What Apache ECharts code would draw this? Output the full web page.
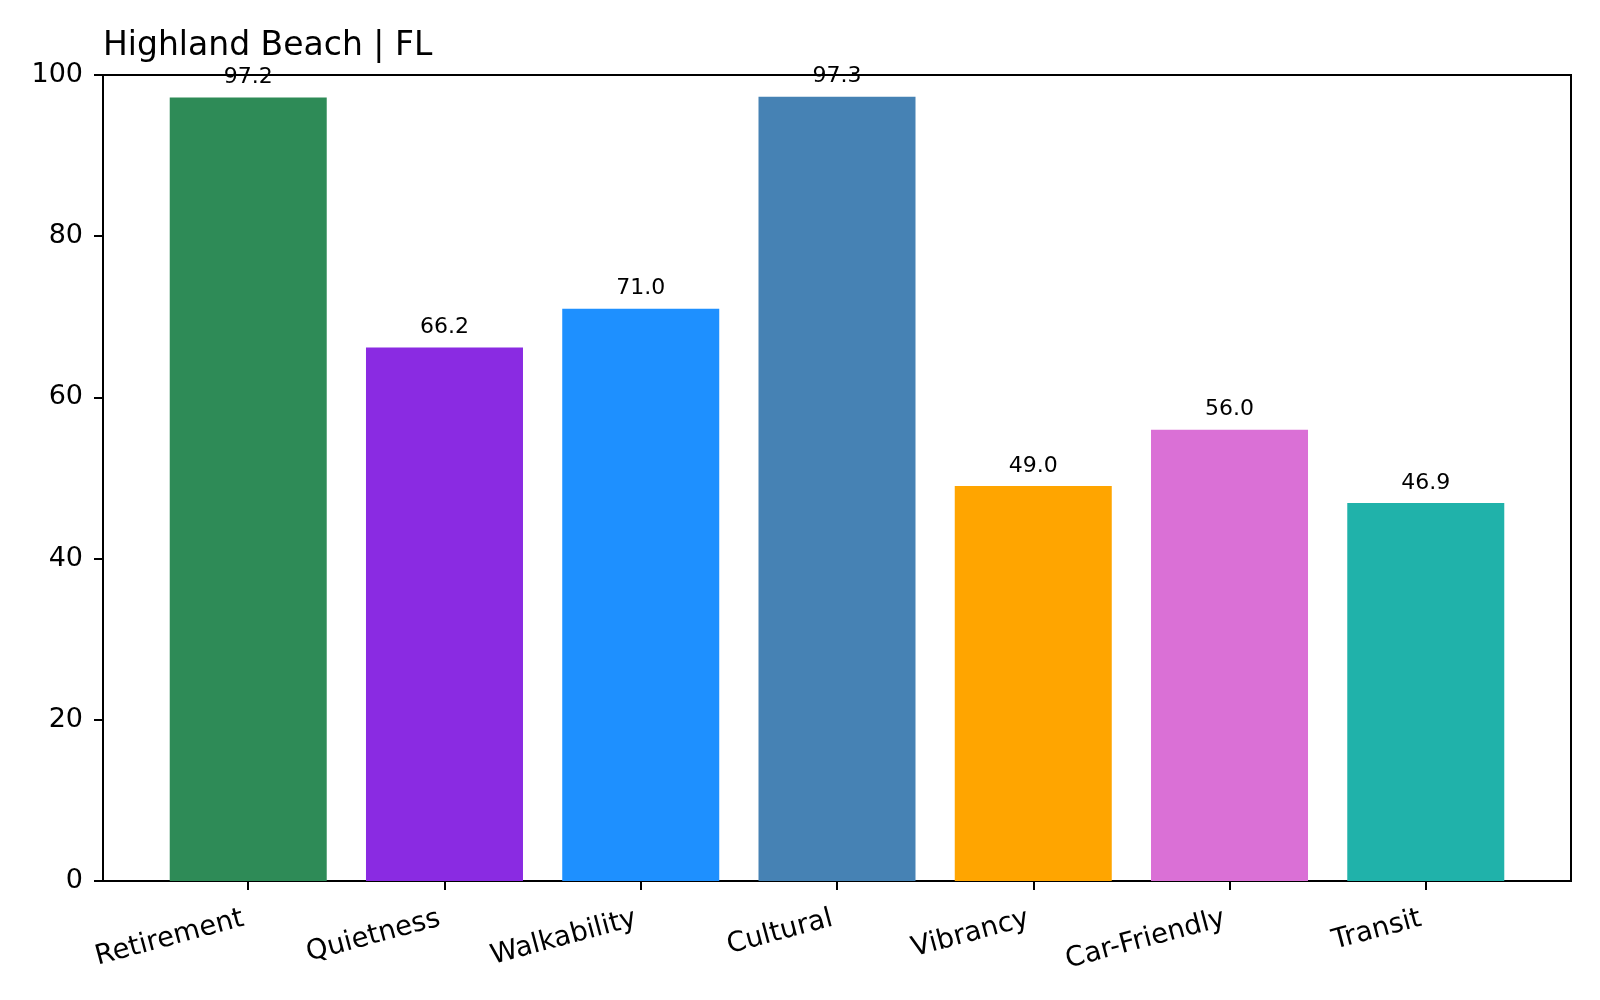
<!DOCTYPE html>
<html>
<head>
<meta charset="utf-8">
<script src="https://cdn.jsdelivr.net/npm/echarts@6/dist/echarts.min.js"></script>
<style>
html,body{margin:0;padding:0;background:#fff;}
#chart{width:1600px;height:1000px;}
</style>
</head>
<body>
<div id="chart"></div>
<script>
const titleText = "Highland Beach | FL";
const categories = ["Retirement", "Quietness", "Walkability", "Cultural", "Vibrancy", "Car-Friendly", "Transit"];
const scores = [97.2, 66.2, 71.0, 97.3, 49.0, 56.0, 46.9];
const barColors = ["#2E8B57", "#8A2BE2", "#1E90FF", "#4682B4", "#FFA500", "#DA70D6", "#20B2AA"];
const yTicks = [0, 20, 40, 60, 80, 100];

const FONT = "DejaVu Sans";
const chart = echarts.init(document.getElementById('chart'));

// plot area (matplotlib axes)
const L = 103, R = 1571, T = 75, B = 881;
const W = R - L;
const unit = W / 7.48;          // xlim -0.74 .. 6.74
const inset = 0.24 * unit;

chart.setOption({
  animation: false,
  backgroundColor: '#fff',
  textStyle: { fontFamily: FONT },
  title: {
    text: titleText,
    left: L - 5,
    top: 25,
    textStyle: { fontFamily: FONT, fontWeight: 'normal', fontSize: 33, color: '#000' }
  },
  grid: [
    { left: L, right: 1600 - R, top: T, bottom: 1000 - B, show: true, borderColor: '#000', borderWidth: 2, backgroundColor: 'transparent' },
    { left: L + inset, right: 1600 - R + inset, top: T, bottom: 1000 - B }
  ],
  xAxis: [
    { gridIndex: 0, type: 'value', min: 0, max: 1, show: false },
    {
      gridIndex: 1, type: 'category', data: categories,
      axisLine: { show: false },
      axisTick: { show: true, alignWithLabel: true, length: 9, lineStyle: { color: '#000', width: 2 } },
      axisLabel: { interval: 0, rotate: 15, margin: 36, fontSize: 27.5, color: '#000', fontFamily: FONT, padding: [0, 5, 0, 0] }
    }
  ],
  yAxis: [
    {
      gridIndex: 0, type: 'value', min: yTicks[0], max: yTicks[yTicks.length - 1], interval: 20,
      axisLine: { show: true, lineStyle: { color: '#000', width: 2 } },
      axisTick: { show: true, length: 9, lineStyle: { color: '#000', width: 2 } },
      axisLabel: { margin: 20, fontSize: 27, color: '#000', fontFamily: FONT },
      splitLine: { show: false }
    },
    { gridIndex: 1, type: 'value', min: 0, max: 100, show: false }
  ],
  series: [{
    type: 'bar',
    xAxisIndex: 1, yAxisIndex: 1,
    barWidth: '80%',
    data: scores.map((v, i) => ({ value: v, itemStyle: { color: barColors[i] } })),
    label: {
      show: true, position: 'top', distance: 9,
      fontSize: 22, color: '#000', fontFamily: FONT,
      formatter: p => Number(p.value).toFixed(1)
    }
  }]
});
</script>
</body>
</html>
